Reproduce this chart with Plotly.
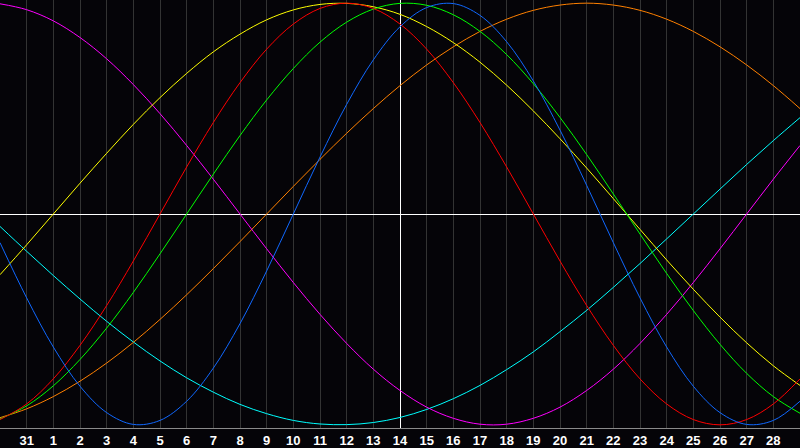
import plotly.graph_objects as go

# days shown along the bottom (first and last column are edges, no label)
days = ["30", "31"] + [str(d) for d in range(1, 29)] + ["1"]
# offset from "today" (the 14th), so the white cross sits on the zero lines
day_off = [i - 15 for i in range(len(days))]

# cycle values, in percent (-100 .. 100), one per day
physical = [-13.6, -39.8, -63.1, -81.7, -94.2, -99.8, -97.9, -88.8, -73.1, -52.0, -27.0,
            0, 27.0, 52.0, 73.1, 88.8, 97.9, 99.8, 94.2, 81.7, 63.1, 39.8, 13.6,
            -13.6, -39.8, -63.1, -81.7, -94.2, -99.8, -97.9, -88.8]
emotional = [-97.5, -90.1, -78.2, -62.3, -43.4, -22.3,
             0, 22.3, 43.4, 62.3, 78.2, 90.1, 97.5, 100, 97.5, 90.1, 78.2, 62.3, 43.4, 22.3,
             0, -22.3, -43.4, -62.3, -78.2, -90.1, -97.5, -100, -97.5, -90.1, -78.2]
intellectual = [-97.2, -91.0, -81.5, -69.0, -54.1, -37.2, -18.9,
                0, 18.9, 37.2, 54.1, 69.0, 81.5, 91.0, 97.2, 99.9, 99.0, 94.5, 86.6, 75.6, 61.8, 45.8, 28.2, 9.5,
                -9.5, -28.2, -45.8, -61.8, -75.6, -86.6, -94.5]
intuitive = [99.7, 96.9, 91.6, 83.7, 73.6, 61.4, 47.6, 32.5, 16.5,
             0, -16.5, -32.5, -47.6, -61.4, -73.6, -83.7, -91.6, -96.9, -99.7, -99.7,
             -96.9, -91.6, -83.7, -73.6, -61.4, -47.6, -32.5, -16.5, 0, 16.5, 32.5]
aesthetic = [-28.8, -14.6,
             0, 14.6, 28.8, 42.5, 55.2, 66.7, 76.9, 85.3, 92.1, 96.8, 99.4, 99.9, 98.3, 94.7, 88.9,
             81.3, 72.0, 61.1, 48.9, 35.7, 21.8, 7.3, -7.3, -21.8, -35.7, -48.9, -61.1, -72.0, -81.3]
awareness = [-96.6, -92.4, -86.6, -79.3, -70.7, -60.9, -50.0, -38.3, -25.9, -13.1,
             0, 13.1, 25.9, 38.3, 50.0, 60.9, 70.7, 79.3, 86.6, 92.4, 96.6, 99.1, 100,
             99.1, 96.6, 92.4, 86.6, 79.3, 70.7, 60.9, 50.0]
spiritual = [-5.9, -17.7, -29.2, -40.3, -50.9, -60.7, -69.7, -77.7, -84.5, -90.3, -94.7, -97.9, -99.6,
             -99.9, -98.9, -96.5, -92.7, -87.6, -81.3, -73.8, -65.4, -55.8, -45.7, -34.8, -23.5, -11.8,
             0, 11.8, 23.5, 34.8, 45.7]

series = [
    ("Spiritual", spiritual, "#00ffff"),
    ("Awareness", awareness, "#ff8000"),
    ("Intuitive", intuitive, "#ff00ff"),
    ("Aesthetic", aesthetic, "#ffff00"),
    ("Intellectual", intellectual, "#00ff00"),
    ("Emotional", emotional, "#ff0000"),
    ("Physical", physical, "#1068ff"),
]

fig = go.Figure()
for name, vals, col in series:
    fig.add_trace(go.Scatter(x=day_off, y=vals, name=name, mode="lines",
                             line=dict(color=col, width=1, shape="spline", smoothing=1)))

fig.update_layout(
    width=800, height=448,
    margin=dict(l=0, r=0, t=0, b=20),
    paper_bgcolor="#050408", plot_bgcolor="#050408",
    showlegend=False,
)
fig.update_xaxes(range=[-15, 15], tickvals=day_off[1:30], ticktext=days[1:30],
                 showgrid=True, gridcolor="#333333", gridwidth=1,
                 zeroline=True, zerolinecolor="white", zerolinewidth=1,
                 showline=True, mirror=True, linecolor="#8a8a8a", linewidth=1,
                 ticks="", ticklabelstandoff=0,
                 tickfont=dict(family="Liberation Sans", size=13, color="white", weight="bold"))
fig.update_yaxes(range=[-101.5, 101.5], showgrid=False, showticklabels=False,
                 zeroline=True, zerolinecolor="white", zerolinewidth=1,
                 showline=True, mirror=True, linecolor="#8a8a8a", linewidth=1)

fig.write_html("out.html", config={"displayModeBar": False},
               post_script="document.body.style.margin='0px';")
